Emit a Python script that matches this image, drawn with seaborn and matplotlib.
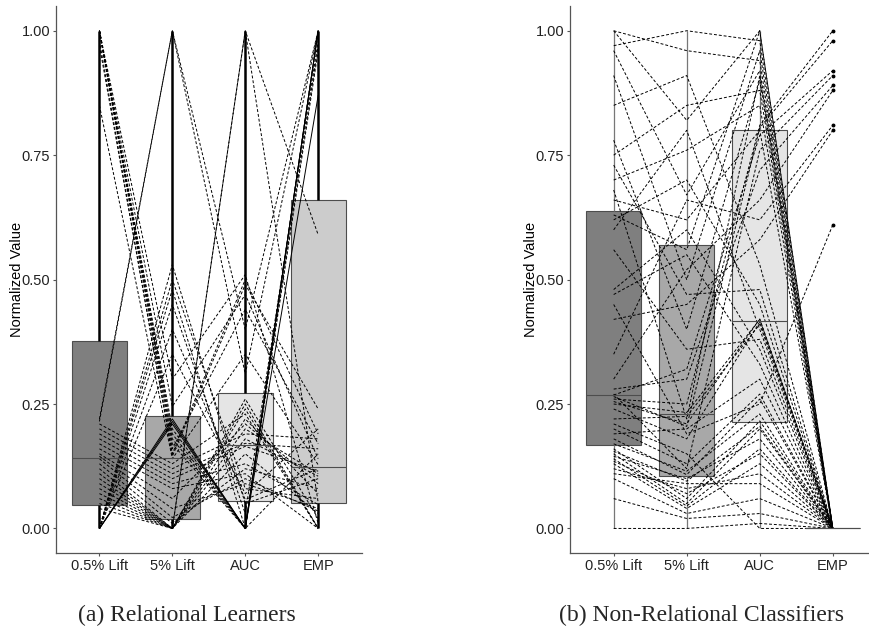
import numpy as np
import pandas as pd
import matplotlib
matplotlib.use("Agg")
import matplotlib.pyplot as plt
import seaborn as sns

# ---------------- data ----------------
categories = ["0.5% Lift", "5% Lift", "AUC", "EMP"]
box_colors = ["#7f7f7f", "#a8a8a8", "#e5e5e5", "#cccccc"]
y_ticks = [0.0, 0.25, 0.5, 0.75, 1.0]
y_tick_labels = ["0.00", "0.25", "0.50", "0.75", "1.00"]
y_label = "Normalized Value"
captions = ["(a) Relational Learners", "(b) Non-Relational Classifiers"]

# (a) Relational learners: one entry per learner/dataset line
rel_lift05 = [0, 0, 0, 0, 0, 0, 0, 0, 0,
              1.0, 1.0, 1.0, 1.0, 1.0, 1.0, 1.0, 0.98, 0.97, 0.85,
              0.04, 0.05, 0.06, 0.07, 0.08, 0.09, 0.10, 0.11, 0.12, 0.13,
              0.14, 0.145, 0.15, 0.16, 0.17, 0.18, 0.19, 0.20, 0.21, 0.215, 0.22]
rel_lift5 = [0.22, 0.215, 0.21, 0.45, 0.48, 0.53, 0.50, 0.40, 0.35,
             0.20, 0.19, 0.18, 0.17, 0.16, 0.245, 0.30, 0.145, 0.15, 0.14,
             0, 0, 0, 0, 0, 0, 0, 0, 0, 0.01,
             0.022, 0.04, 0.06, 0.08, 0.09, 0.10, 0.11, 0.12, 0.13, 1.0, 1.0]
rel_auc = [0, 0, 0, 0.03, 0, 0.05, 0.08, 0.058, 0.07,
           0, 0, 0, 0, 0.44, 0.47, 0.51, 0.49, 0.50, 0.35,
           0.25, 1.0, 1.0, 0.22, 0.26, 0.24, 0.20, 0.18, 0.15, 0.12,
           0.10, 0.09, 0.21, 0.11, 0.13, 0.165, 0.171, 0.19, 0.23, 0.31, 0.40]
rel_emp = [1.0, 1.0, 0.87, 0.98, 0.15, 0.10, 0.06, 0.12, 0.20,
           1.0, 0.97, 0.96, 1.0, 0.17, 0.14, 0.01, 0.24, 0.19, 0.128,
           0, 0.59, 0.052, 0.07, 0.02, 0, 0.11, 0.105, 0.03, 0.08,
           0.035, 0.04, 0.09, 0, 0.048, 0.115, 0.16, 0.18, 0, 1.0, 1.0]
rel_solid_ids = [0, 1, 2]

# (b) Non-relational classifiers
non_lift05 = [1.00, 1.00, 0.97, 0.96, 0.91, 0.85, 0.78, 0.75, 0.73, 0.70, 0.68, 0.66,
              0.63, 0.62, 0.60, 0.56, 0.48, 0.47, 0.45, 0.42, 0.35, 0.30, 0.28, 0.27,
              0.268, 0.265, 0.26, 0.255, 0.25, 0.24, 0.22, 0.21, 0.20, 0.19, 0.18, 0.17,
              0.16, 0.155, 0.15, 0.145, 0.14, 0.135, 0.13, 0.12, 0.11, 0.10, 0.06, 0.00]
non_lift5 = [0.82, 0.96, 1.00, 0.67, 0.50, 0.91, 0.40, 0.85, 0.47, 0.76, 0.22, 0.62,
             0.56, 0.70, 0.80, 0.36, 0.60, 0.55, 0.19, 0.45, 0.66, 0.52, 0.30, 0.12,
             0.32, 0.205, 0.25, 0.21, 0.233, 0.18, 0.225, 0.15, 0.13, 0.20, 0.108, 0.115,
             0.06, 0.095, 0.05, 0.10, 0.045, 0.07, 0.04, 0.08, 0.09, 0.03, 0.02, 0.00]
non_auc = [1.00, 0.94, 0.98, 0.92, 0.96, 0.53, 0.90, 0.88, 0.48, 0.85, 0.91, 0.80,
           1.00, 0.45, 0.40, 0.38, 0.36, 0.33, 0.25, 0.58, 0.62, 0.66, 0.72, 0.76,
           0.79, 0.805, 0.81, 0.421, 0.42, 0.415, 0.41, 0.00, 0.27, 0.30, 0.26, 0.23,
           0.216, 0.205, 0.20, 0.18, 0.16, 0.15, 0.13, 0.11, 0.09, 0.06, 0.03, 0.01]
non_emp = [0, 0, 0, 0, 0, 0, 0, 0, 0, 0, 0, 0,
           0, 0, 0, 0, 0, 0, 0.61, 0.80, 0.81, 0.88, 0.89, 0.91,
           0.92, 0.98, 1.00, 0, 0, 0, 0, 0, 0, 0, 0, 0,
           0, 0, 0, 0, 0, 0, 0, 0, 0, 0, 0, 0]
non_solid_ids = []

# ---------------- style ----------------
sns.set_style("white")
plt.rcParams["font.family"] = ["Liberation Sans", "DejaVu Sans"]

fig = plt.figure(figsize=(8.7, 6.3), dpi=100)
ax_a = fig.add_axes([0.064, 0.1217, 0.352, 0.869])
ax_b = fig.add_axes([0.655, 0.1217, 0.3526, 0.869])


def draw_panel(ax, cols, solid_ids, whis, wcolor, wlw):
    df = pd.DataFrame({c: v for c, v in zip(categories, cols)})
    df["id"] = np.arange(len(df))
    long = df.melt(id_vars="id", var_name="metric", value_name="value")
    sns.boxplot(data=long, x="metric", y="value", order=categories,
                hue="metric", hue_order=categories,
                palette=dict(zip(categories, box_colors)), saturation=1,
                legend=False, width=0.75, whis=whis,
                linecolor="#4d4d4d", linewidth=0.8,
                whiskerprops=dict(color=wcolor, linewidth=wlw),
                showcaps=False,
                flierprops=dict(marker="o", markersize=1.8,
                                markerfacecolor="black", markeredgecolor="black"),
                medianprops=dict(color="#4d4d4d", linewidth=0.8),
                ax=ax)
    long["pos"] = long["metric"].map({c: i for i, c in enumerate(categories)})
    long["ltype"] = np.where(long["id"].isin(solid_ids), "solid", "dashed")
    sns.lineplot(data=long, x="pos", y="value", units="id", estimator=None,
                 style="ltype", style_order=["dashed", "solid"],
                 dashes={"solid": "", "dashed": (3, 2)},
                 color="black", linewidth=0.7, legend=False, ax=ax)
    ax.set_xlim(-0.6, 3.6)
    ax.set_ylim(-0.05, 1.05)
    ax.set_xticks(range(len(categories)))
    ax.set_xticklabels(categories)
    ax.set_yticks(y_ticks)
    ax.set_yticklabels(y_tick_labels)
    ax.set_xlabel("")
    ax.set_ylabel(y_label, fontsize=10.5, color="black")
    ax.yaxis.set_label_coords(-0.105, 0.5)
    for s in ["top", "right"]:
        ax.spines[s].set_visible(False)
    for s in ["left", "bottom"]:
        ax.spines[s].set_color("#555555")
        ax.spines[s].set_linewidth(0.9)
    ax.tick_params(axis="both", length=2.5, width=0.8, color="#555555", pad=1.5,
                   labelsize=10.5, labelcolor="#222222", left=True, bottom=True)


draw_panel(ax_a, [rel_lift05, rel_lift5, rel_auc, rel_emp], rel_solid_ids,
           (0, 100), "black", 1.8)
draw_panel(ax_b, [non_lift05, non_lift5, non_auc, non_emp], non_solid_ids,
           1.5, "#777777", 0.9)

fig.text(187 / 870, 1 - 615 / 630, captions[0], ha="center", va="center",
         family=["Liberation Serif", "DejaVu Serif"], size=17)
fig.text(702 / 870, 1 - 615 / 630, captions[1], ha="center", va="center",
         family=["Liberation Serif", "DejaVu Serif"], size=17)

fig.savefig("out.png", dpi=100)
